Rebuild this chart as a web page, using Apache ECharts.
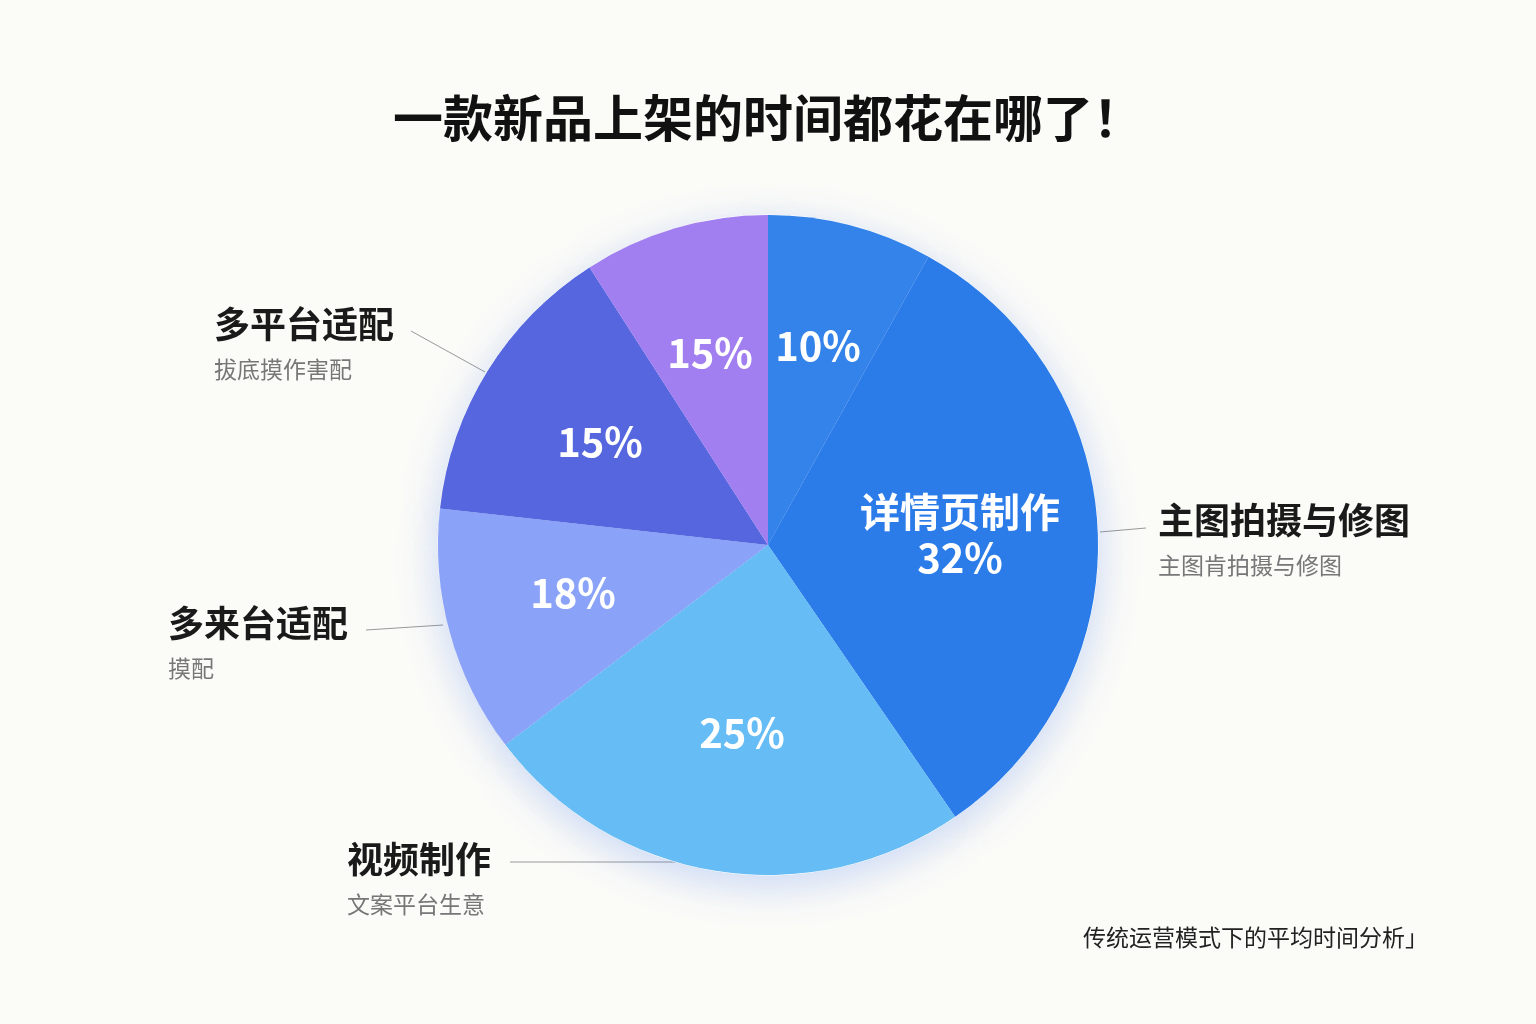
<!DOCTYPE html>
<html><head><meta charset="utf-8">
<script src="https://cdn.jsdelivr.net/npm/echarts@6/dist/echarts.min.js"></script>
<style>html,body{margin:0;background:#fbfbf8;}#main{width:1536px;height:1024px;}</style>
</head><body><div id="main"></div>
<script>
// slice sizes as drawn (clockwise from 12 o'clock)
var values = [8, 32, 24, 12, 14, 9];
// percentages printed on the slices
var insideText = ['10%', '详情页制作\n32%', '25%', '18%', '15%', '15%'];
var outerTitle = ['', '主图拍摄与修图', '视频制作', '多来台适配', '多平台适配', ''];
var outerSub = ['', '主图肯拍摄与修图', '文案平台生意', '摸配', '拔底摸作害配', ''];
var colors = ['#3383ea', '#2b7ce9', '#66bcf4', '#8aa2f7', '#5566df', '#a27ff0'];

var insidePos = [[818, 346], [960, 535], [742, 733], [573, 593], [600, 442], [710, 353]];
var outerPos = [null,
  {x: 1158, y: 495, line: [[1100, 532], [1146, 528]]},
  {x: 347, y: 834, line: [[675, 862], [510, 862]]},
  {x: 168, y: 598, line: [[443, 625], [366, 630]]},
  {x: 214, y: 299, line: [[485, 372], [411, 331]]},
  null];

var data = values.map(function (v, i) {
  return {value: v, name: 's' + i, itemStyle: {color: colors[i]}};
});

var chart = echarts.init(document.getElementById('main'));
chart.setOption({
  backgroundColor: '#fbfbf8',
  title: {text: '一款新品上架的时间都花在哪了！', left: 'center', top: 88,
    textStyle: {fontFamily: 'Noto Sans CJK SC', fontSize: 50, fontWeight: 'bold', color: '#111'}},
  graphic: [{type: 'text', right: 108, top: 926,
    style: {text: '传统运营模式下的平均时间分析」', font: '23px "Noto Sans CJK SC"', fill: '#222'}}],
  series: [{
    type: 'pie', center: [768, 545], radius: [0, 330], startAngle: 90, clockwise: true,
    silent: true, animation: false,
    itemStyle: {borderColor: '#fff', borderWidth: 1, shadowBlur: 40, shadowColor: 'rgba(60,120,240,0.25)', shadowOffsetY: 10},
    label: {position: 'inside', color: '#fff', fontFamily: 'Noto Sans CJK SC', fontWeight: 'bold', fontSize: 40, lineHeight: 46,
      formatter: function (p) { return insideText[p.dataIndex]; }},
    labelLayout: function (p) {
      var c = insidePos[p.dataIndex];
      return {x: c[0], y: c[1], align: 'center', verticalAlign: 'middle'};
    },
    data: data
  }, {
    type: 'pie', center: [768, 545], radius: [0, 330], startAngle: 90, silent: true, animation: false,
    itemStyle: {color: 'rgba(0,0,0,0)'},
    label: {position: 'outside',
      formatter: function (p) { var i = p.dataIndex; return outerTitle[i] ? '{t|' + outerTitle[i] + '}\n{s|' + outerSub[i] + '}' : ''; },
      rich: {t: {fontFamily: 'Noto Sans CJK SC', fontSize: 36, fontWeight: 'bold', color: '#1a1a1a', lineHeight: 50},
             s: {fontFamily: 'Noto Sans CJK SC', fontSize: 23, color: '#777', lineHeight: 40}}},
    labelLine: {show: true, lineStyle: {color: '#999', width: 1}},
    labelLayout: function (p) {
      var o = outerPos[p.dataIndex];
      if (!o) return {x: -500, y: -500, labelLinePoints: [[-500, -500], [-500, -500], [-500, -500]]};
      return {x: o.x, y: o.y, align: 'left', verticalAlign: 'top', labelLinePoints: [o.line[0], o.line[1], o.line[1]]};
    },
    data: data
  }]
});
</script></body></html>
